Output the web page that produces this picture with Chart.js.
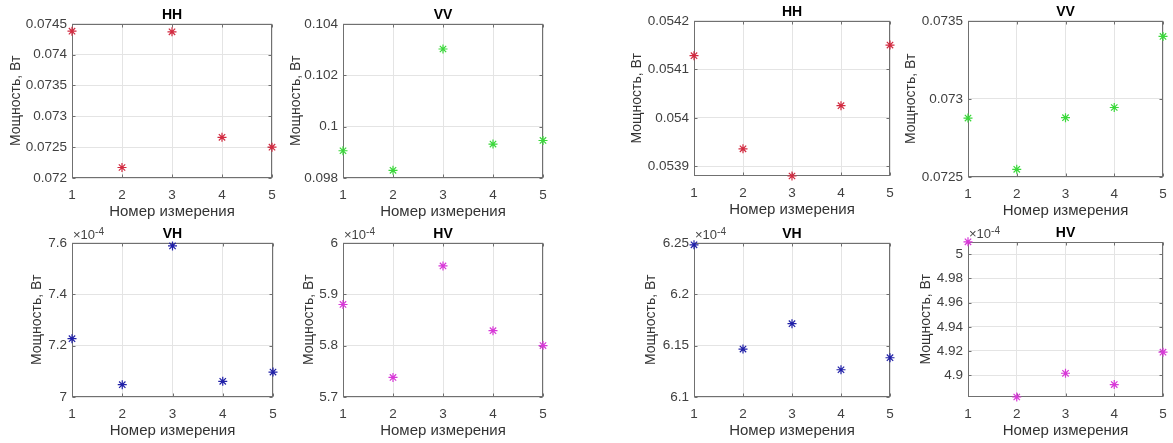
<!DOCTYPE html>
<html>
<head>
<meta charset="utf-8">
<script src="https://cdn.jsdelivr.net/npm/chart.js@4.4.1/dist/chart.umd.min.js"></script>
<style>
  body { margin: 0; background: #fff; }
  #page { position: relative; width: 1173px; height: 443px; overflow: hidden; background: #fff; }
  .panel { position: absolute; }
</style>
</head>
<body>
<div id="page"></div>
<script>
// номер измерения
const measurements = [1, 2, 3, 4, 5];

// левая фигура, Вт (VH и HV в единицах 1e-4 Вт)
const hhLeft = [0.07438, 0.07217, 0.07437, 0.07266, 0.07250];
const vvLeft = [0.09906, 0.09830, 0.10302, 0.09932, 0.09946];
const vhLeft = [7.227, 7.048, 7.588, 7.061, 7.097];
const hvLeft = [5.880, 5.738, 5.955, 5.829, 5.800];

// правая фигура
const hhRight = [0.054128, 0.053936, 0.053880, 0.054025, 0.054150];
const vvRight = [0.072877, 0.072549, 0.072880, 0.072945, 0.073400];
const vhRight = [6.248, 6.1466, 6.1713, 6.1265, 6.1382];
const hvRight = [5.0102, 4.882, 4.9016, 4.8923, 4.919];

// подписи делений
const xTicks = [1, 2, 3, 4, 5];
const hhLeftTicks = [0.072, 0.0725, 0.073, 0.0735, 0.074, 0.0745];
const vvLeftTicks = [0.098, 0.1, 0.102, 0.104];
const vhLeftTicks = [7, 7.2, 7.4, 7.6];
const hvLeftTicks = [5.7, 5.8, 5.9, 6];
const hhRightTicks = [0.0539, 0.054, 0.0541, 0.0542];
const vvRightTicks = [0.0725, 0.073, 0.0735];
const vhRightTicks = [6.1, 6.15, 6.2, 6.25];
const hvRightTicks = [4.9, 4.92, 4.94, 4.96, 4.98, 5];

const FONT = "'Liberation Sans', Arial, sans-serif";
const Y_W = 72, TOP_H = 28, X_H = 48, RIGHT_PAD = 14;

// рамка, внутренние засечки и множитель x10^-4
const boxPlugin = {
  id: 'matlabBox',
  beforeDatasetsDraw(chart, args, opts) {
    const { ctx, chartArea: a } = chart;
    const l = Math.round(a.left) + 0.5, t = Math.round(a.top) + 0.5;
    const r = Math.round(a.right) - 0.5, b = Math.round(a.bottom) - 0.5;
    ctx.save();
    ctx.strokeStyle = '#707070';
    ctx.lineWidth = 1;
    ctx.strokeRect(l, t, r - l, b - t);
    ctx.beginPath();
    chart.scales.x.ticks.forEach(tk => {
      const px = Math.round(chart.scales.x.getPixelForValue(tk.value)) + 0.5;
      ctx.moveTo(px, b); ctx.lineTo(px, b - 3);
      ctx.moveTo(px, t); ctx.lineTo(px, t + 3);
    });
    chart.scales.y.ticks.forEach(tk => {
      const py = Math.round(chart.scales.y.getPixelForValue(tk.value)) + 0.5;
      ctx.moveTo(l, py); ctx.lineTo(l + 3, py);
      ctx.moveTo(r, py); ctx.lineTo(r - 3, py);
    });
    ctx.stroke();
    if (opts.exponent) {
      ctx.fillStyle = '#444';
      ctx.textBaseline = 'alphabetic';
      ctx.textAlign = 'left';
      ctx.font = '13px ' + FONT;
      ctx.fillText('\u00d710', a.left + 1, a.top - 4);
      const w = ctx.measureText('\u00d710').width;
      ctx.font = '10px ' + FONT;
      ctx.fillText('-4', a.left + 1 + w, a.top - 8);
    }
    ctx.restore();
  }
};

// расположение областей построения: left, top, right, bottom, центр подписи оси Y
const panels = [
  { title: 'HH', data: hhLeft, ticks: hhLeftTicks, min: 0.072, max: 0.0745, color: '#d22a40', box: [72, 23, 272, 178], ylab: 16 },
  { title: 'VV', data: vvLeft, ticks: vvLeftTicks, min: 0.098, max: 0.104, color: '#3ad83a', box: [343, 23, 543, 178], ylab: 296 },
  { title: 'VH', data: vhLeft, ticks: vhLeftTicks, min: 7, max: 7.6, color: '#2020a8', box: [72, 242, 273, 397], ylab: 37.5, exponent: true },
  { title: 'HV', data: hvLeft, ticks: hvLeftTicks, min: 5.7, max: 6, color: '#d838d8', box: [343, 242, 543, 397], ylab: 309, exponent: true },
  { title: 'HH', data: hhRight, ticks: hhRightTicks, min: 0.05388, max: 0.0542, color: '#d22a40', box: [694, 20, 890, 176], ylab: 637.5 },
  { title: 'VV', data: vvRight, ticks: vvRightTicks, min: 0.0725, max: 0.0735, color: '#3ad83a', box: [968, 20, 1163, 177], ylab: 911 },
  { title: 'VH', data: vhRight, ticks: vhRightTicks, min: 6.1, max: 6.25, color: '#2020a8', box: [694, 242, 890, 397], ylab: 651, exponent: true },
  { title: 'HV', data: hvRight, ticks: hvRightTicks, min: 4.882, max: 5.0102, color: '#d838d8', box: [968, 241, 1163, 397], ylab: 926, exponent: true }
];

const page = document.getElementById('page');

panels.forEach(p => {
  const [L, T, R, B] = p.box;
  const div = document.createElement('div');
  div.className = 'panel';
  div.style.left = (L - Y_W) + 'px';
  div.style.top = (T - TOP_H) + 'px';
  div.style.width = (R - L + Y_W + RIGHT_PAD) + 'px';
  div.style.height = (B - T + TOP_H + X_H) + 'px';
  const canvas = document.createElement('canvas');
  div.appendChild(canvas);
  page.appendChild(div);

  const ylabPad = p.ylab - (L - Y_W) - 14 * 1.2 / 2;

  new Chart(canvas, {
    type: 'scatter',
    data: {
      datasets: [{
        data: measurements.map((m, i) => ({ x: m, y: p.data[i] })),
        pointStyle: 'star',
        pointRadius: 4.5,
        borderWidth: 1.2,
        borderColor: p.color,
        backgroundColor: p.color,
        clip: false
      }]
    },
    options: {
      responsive: true,
      maintainAspectRatio: false,
      animation: false,
      events: [],
      layout: { padding: { top: 0, right: RIGHT_PAD, bottom: 0, left: 0 } },
      plugins: {
        legend: { display: false },
        tooltip: { enabled: false },
        title: {
          display: true,
          text: p.title,
          fullSize: false,
          color: '#000',
          font: { family: FONT, size: 14, weight: 'bold' },
          padding: { top: 12, bottom: 0 }
        },
        matlabBox: { exponent: !!p.exponent }
      },
      scales: {
        x: {
          type: 'linear',
          min: 1,
          max: 5,
          afterBuildTicks: s => { s.ticks = xTicks.map(v => ({ value: v })); },
          afterFit: s => { s.height = X_H; },
          grid: { color: '#e4e4e4', drawTicks: false },
          border: { display: false },
          ticks: { color: '#404040', font: { family: FONT, size: 13.5 }, padding: 9, callback: v => String(v) },
          title: { display: true, text: 'Номер измерения', color: '#333', font: { family: FONT, size: 15 }, padding: { top: 0, bottom: 5 } }
        },
        y: {
          type: 'linear',
          min: p.min,
          max: p.max,
          afterBuildTicks: s => { s.ticks = p.ticks.map(v => ({ value: v })); },
          afterFit: s => { s.width = Y_W; },
          grid: { color: '#e4e4e4', drawTicks: false },
          border: { display: false },
          ticks: { color: '#404040', font: { family: FONT, size: 13.5 }, padding: 5, callback: v => String(v) },
          title: { display: true, text: 'Мощность, Вт', color: '#333', font: { family: FONT, size: 14 }, padding: { top: ylabPad, bottom: 0 } }
        }
      }
    },
    plugins: [boxPlugin]
  });
});
</script>
</body>
</html>
